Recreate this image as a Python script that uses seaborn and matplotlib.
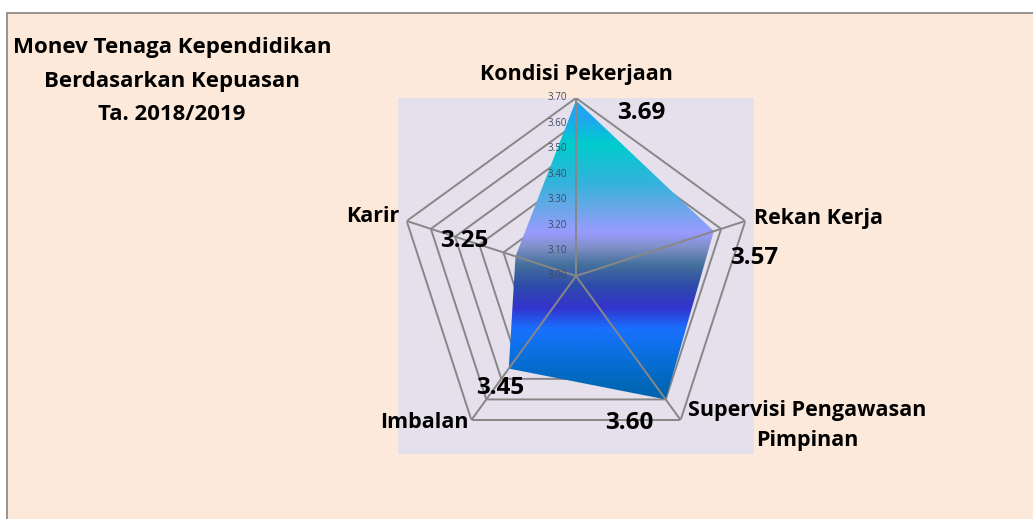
import numpy as np
import matplotlib
matplotlib.use("Agg")
import matplotlib.pyplot as plt
import seaborn as sns
from matplotlib.colors import LinearSegmentedColormap
from matplotlib.image import AxesImage
from matplotlib.patches import Rectangle

# data
categories = ["Kondisi Pekerjaan", "Rekan Kerja", "Supervisi Pengawasan\nPimpinan", "Imbalan", "Karir"]
scores = [3.69, 3.57, 3.60, 3.45, 3.25]
r_ticks = [3.00, 3.10, 3.20, 3.30, 3.40, 3.50, 3.60, 3.70]
title = "Monev Tenaga Kependidikan\nBerdasarkan Kepuasan\nTa. 2018/2019"

# label placement (offsets in points from the outer vertex / data point)
cat_offsets = [(0, 17), (6, 2), (91, -4), (-2, -2), (-5, 3)]
cat_ha = ["center", "left", "center", "right", "right"]
val_offsets = [(47, -9), (29, -19), (-26, -17), (-6, -14), (-37, 11)]

sns.set_theme(style="white")
plt.rcParams["font.family"] = ["Open Sans", "DejaVu Sans"]

W, H = 1033, 519
fig = plt.figure(figsize=(W / 100, H / 100), dpi=100)
fig.patch.set_facecolor("white")

# chart area + plot area backgrounds
fig.patches.append(Rectangle((6.5 / W, -0.1), 1.1, 1.1 - 12.5 / H, transform=fig.transFigure,
                             facecolor="#fde9d9", edgecolor="#8c8c8c", lw=1.3, zorder=-2))
fig.patches.append(Rectangle((398 / W, (H - 454) / H), 356 / W, 356 / H, transform=fig.transFigure,
                             facecolor="#e5e0ec", edgecolor="none", zorder=-1))

ax = fig.add_axes([398 / W, (H - 454) / H, 356 / W, 356 / H], projection="polar")
ax.set_zorder(2)
ax.set_facecolor("none")
ax.set_theta_zero_location("N")
ax.set_theta_direction(-1)
ax.spines["polar"].set_visible(False)
ax.grid(False)
ax.set_xticks([])
ax.set_yticks([])

n = len(categories)
theta = np.linspace(0, 2 * np.pi, n, endpoint=False)
theta_c = np.append(theta, theta[0])
grid_col = "#878787"

# pentagon gridlines
for v in r_ticks[1:]:
    ax.plot(theta_c, [v] * (n + 1), color=grid_col, lw=1.4, zorder=1)

# gradient fill clipped to the data polygon
vals_c = np.append(scores, scores[0])
poly = ax.fill(theta_c, vals_c, facecolor="none", edgecolor="none", zorder=2)[0]
stops = [(0.0, "#1fa5ef"), (0.06, "#1ea8ee"), (0.13, "#00cccc"), (0.24, "#33b3dd"),
         (0.31, "#6aa8e8"), (0.38, "#9a9aff"), (0.42, "#8090c8"), (0.47, "#44709c"),
         (0.53, "#2e4aaa"), (0.59, "#3333cc"), (0.65, "#1a70ff"), (0.72, "#0a70e0"),
         (0.82, "#0066b3"), (1.0, "#005a9e")]
cmap = LinearSegmentedColormap.from_list("ocean_fill", stops)
grad = np.linspace(0, 1, 512).reshape(-1, 1)
im = AxesImage(ax, cmap=cmap, extent=(0, 1, 0, 1), origin="upper",
               interpolation="bilinear", transform=ax.transAxes)
im.set_data(grad)
im.set_zorder(2)
im.set_clip_path(poly)
ax.add_image(im)

# spokes
for t in theta:
    ax.plot([t, t], [r_ticks[0], r_ticks[-1]], color=grid_col, lw=1.4, zorder=3)

ax.set_xlim(0, 2 * np.pi)
ax.set_ylim(r_ticks[0], r_ticks[-1])

# radial tick labels
for v in r_ticks:
    ax.annotate(f"{v:.2f}", (0, v), xytext=(-6.5, 0), textcoords="offset points",
                ha="right", va="center", fontsize=7, color="#3c4a66", zorder=4,
                annotation_clip=False)

# category labels
for t, lab, off, ha in zip(theta, categories, cat_offsets, cat_ha):
    ax.annotate(lab, (t, r_ticks[-1]), xytext=off, textcoords="offset points",
                ha=ha, va="center", multialignment="center", fontsize=15.5,
                fontweight="bold", color="black", linespacing=1.55, annotation_clip=False)

# data labels
for t, v, off in zip(theta, scores, val_offsets):
    ax.annotate(f"{v:.2f}", (t, v), xytext=off, textcoords="offset points",
                ha="center", va="center", fontsize=17.5, fontweight="bold",
                color="black", zorder=5, annotation_clip=False)

fig.text(172 / W, 1 - 81 / H, title, ha="center", va="center", multialignment="center",
         fontsize=16, fontweight="bold", color="black", linespacing=1.78)

fig.savefig("out.png", dpi=100, facecolor=fig.get_facecolor())
